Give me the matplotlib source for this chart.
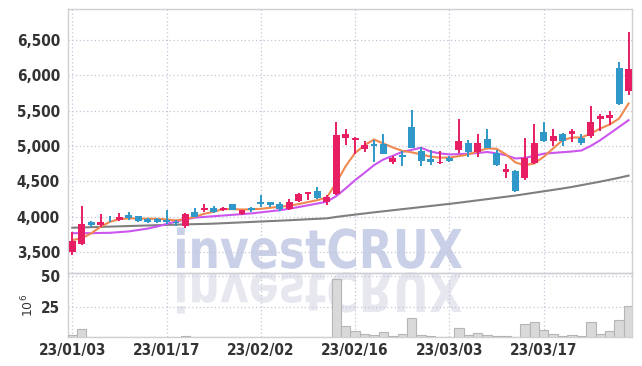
import matplotlib
matplotlib.use("Agg")
import matplotlib.pyplot as plt
import numpy as np
from matplotlib.textpath import TextPath
from matplotlib.patches import PathPatch
from matplotlib.font_manager import FontProperties, fontManager
import matplotlib.transforms as mtransforms


def pick_label_font():
    """Find a narrow bold face for the axis labels, falling back to Roboto."""
    def weight_of(f):
        w = f.weight
        if isinstance(w, str):
            w = {"bold": 700, "semibold": 600, "demibold": 600, "medium": 500}.get(w, 400)
        return w

    best = None
    for f in fontManager.ttflist:
        narrow = (f.stretch in ("condensed", "semi-condensed", "extra-condensed")
                  or "Narrow" in f.name or "Condensed" in f.name)
        if not narrow or f.style != "normal":
            continue
        score = abs(weight_of(f) - 650)
        if f.stretch == "condensed" or "Narrow" in f.name:
            score -= 50
        if best is None or score < best[0]:
            best = (score, f)
    if best is not None:
        return FontProperties(fname=best[1].fname)
    return FontProperties(family="Roboto", weight="bold")


LABEL_FP = pick_label_font()

# daily OHLC, 23/01/03 .. 23/03/30 (trading days)
opens = [3502, 3611, 3926, 3880, 3970, 3950, 4025, 4007, 3965, 3960,
         3955, 3926, 3866, 4059, 4088, 4125, 4096, 4172, 4031, 4116,
         4210, 4205, 4172, 4101, 4219, 4322, 4360, 4210, 4314, 5120,
         5082, 4955, 5021, 5021, 4775, 4874, 5273, 4926, 4813, 4752,
         4832, 4945, 5040, 4917, 5096, 4902, 4634, 4644, 4549, 4761,
         5191, 5072, 5176, 5171, 5106, 5139, 5383, 5397, 6105, 5779]
highs = [3785, 4149, 3940, 4031, 4011, 4045, 4068, 4010, 3979, 3975,
         4092, 3955, 4045, 4120, 4172, 4150, 4140, 4180, 4100, 4130,
         4304, 4205, 4205, 4253, 4330, 4350, 4417, 4304, 5341, 5247,
         5129, 5072, 5082, 5176, 4856, 4931, 5510, 4987, 4950, 4935,
         4860, 5375, 5082, 5176, 5247, 4936, 4738, 4653, 5120, 5318,
         5341, 5247, 5190, 5237, 5176, 5567, 5446, 5492, 6190, 6614]
lows = [3455, 3597, 3847, 3847, 3918, 3936, 3950, 3920, 3910, 3905,
        3890, 3866, 3833, 3993, 4059, 4050, 4080, 4090, 4020, 4070,
        4139, 4139, 4082, 4088, 4200, 4233, 4253, 4163, 4304, 5011,
        4884, 4908, 4775, 4884, 4742, 4714, 4965, 4714, 4730, 4750,
        4775, 4894, 4846, 4846, 4965, 4718, 4540, 4350, 4516, 4742,
        5058, 5001, 5000, 5058, 5011, 5120, 5209, 5304, 5577, 5728]
closes = [3654, 3894, 3880, 3926, 3960, 3990, 3983, 3936, 3930, 3926,
          3920, 3908, 4035, 3993, 4125, 4068, 4125, 4092, 4092, 4088,
          4172, 4167, 4110, 4200, 4318, 4350, 4266, 4271, 5153, 5167,
          5110, 5011, 4993, 4884, 4823, 4837, 4965, 4789, 4771, 4775,
          4789, 5068, 4917, 5049, 4973, 4728, 4672, 4365, 4823, 5049,
          5072, 5139, 5072, 5209, 5044, 5346, 5426, 5440, 5601, 6086]

# moving average lines as drawn
ma_short = [3667, 3692, 3762, 3856, 3926, 3965, 3975, 3972, 3970, 3968,
            3960, 3946, 3965, 3997, 4040, 4068, 4106, 4106, 4100, 4103,
            4110, 4125, 4139, 4153, 4177, 4205, 4233, 4271, 4478, 4714,
            4902, 5011, 5092, 5035, 4979, 4931, 4910, 4880, 4850, 4835,
            4835, 4856, 4880, 4926, 4965, 4960, 4880, 4767, 4728, 4752,
            4846, 4965, 5082, 5120, 5120, 5176, 5247, 5304, 5389, 5601]
ma_mid = [3765, 3765, 3765, 3768, 3770, 3780, 3790, 3810, 3830, 3860,
          3895, 3930, 3960, 3985, 3995, 4005, 4015, 4025, 4035, 4045,
          4060, 4075, 4090, 4110, 4135, 4160, 4185, 4210, 4290, 4399,
          4516, 4620, 4728, 4809, 4860, 4917, 4945, 4975, 4920, 4895,
          4880, 4885, 4890, 4900, 4915, 4895, 4870, 4823, 4832, 4860,
          4890, 4902, 4912, 4922, 4936, 5001, 5082, 5176, 5270, 5365]
ma_long = [3842, 3846, 3850, 3854, 3858, 3862, 3866, 3870, 3874, 3878,
           3882, 3886, 3889, 3893, 3896, 3900, 3906, 3912, 3918, 3924,
           3930, 3936, 3942, 3948, 3955, 3962, 3968, 3975, 3995, 4012,
           4028, 4044, 4060, 4075, 4090, 4105, 4120, 4135, 4150, 4165,
           4180, 4196, 4213, 4230, 4247, 4264, 4281, 4298, 4318, 4338,
           4358, 4378, 4398, 4420, 4445, 4470, 4495, 4522, 4550, 4580]

# volume in millions
volumes = [2.0, 7.0, 0.6, 0.5, 0.4, 0.5, 0.5, 0.4, 0.3, 0.4,
           0.8, 0.4, 0.9, 0.6, 0.5, 0.4, 0.3, 0.3, 0.6, 0.5,
           0.8, 0.6, 0.6, 0.7, 0.5, 0.6, 0.8, 0.5, 47.7, 9.6,
           5.0, 3.0, 2.2, 4.8, 1.5, 2.5, 15.7, 2.2, 1.3, 0.8,
           0.8, 7.7, 2.0, 3.7, 2.0, 1.0, 1.0, 0.6, 11.0, 12.5,
           6.2, 3.0, 1.3, 2.2, 1.0, 12.5, 3.0, 5.0, 14.0, 26.0]

tick_pos = [0, 10, 20, 30, 40, 50]
tick_labels = ["23/01/03", "23/01/17", "23/02/02", "23/02/16", "23/03/03", "23/03/17"]
price_ticks = [3500, 4000, 4500, 5000, 5500, 6000, 6500]
vol_ticks = [25, 50]

UP = "#e81e64"
DOWN = "#2f98c9"
GRID = "#c4c6d8"
SPINE = "#cfcfd6"
TXT = "#333333"

fig = plt.figure(figsize=(6.42, 3.66), dpi=100)
ax = fig.add_axes([0.1064, 0.2549, 0.8785, 0.7205])
axv = fig.add_axes([0.1064, 0.0779, 0.8785, 0.1770], sharex=ax)
for a in (ax, axv):
    a.set_facecolor("none")

x = np.arange(len(closes))
o = np.array(opens)
c = np.array(closes)
colors = [UP if cc >= oo else DOWN for oo, cc in zip(o, c)]

ax.vlines(x, lows, highs, colors=colors, linewidth=1.4, zorder=3)
bottoms = np.minimum(o, c)
heights = np.maximum(np.abs(c - o), 10)
ax.bar(x, heights, bottom=bottoms, width=0.72, color=colors, zorder=4)

ax.plot(x, ma_long, color="#7f7f7f", linewidth=1.5, zorder=2)
ax.plot(x, ma_mid, color="#cc55ee", linewidth=1.5, zorder=2)
ax.plot(x, ma_short, color="#f0884f", linewidth=1.5, zorder=2)

axv.bar(x, volumes, width=1.0, color="#d9d9d9", edgecolor="#b5b5b5", linewidth=0.8, zorder=3)

ax.set_xlim(-0.42, 59.4)
ax.set_ylim(3205, 6940)
axv.set_ylim(0, 53)

ax.set_yticks(price_ticks)
ax.set_yticklabels([f"{v:,}" for v in price_ticks])
axv.set_yticks(vol_ticks)
axv.set_xticks(tick_pos)
axv.set_xticklabels(tick_labels)
plt.setp(ax.get_xticklabels(), visible=False)

for a in (ax, axv):
    a.grid(True, color=GRID, linestyle=(0, (1, 2)), linewidth=0.9)
    a.set_axisbelow(True)
    a.tick_params(length=0, colors=TXT, pad=6)
    for lab in a.get_yticklabels() + a.get_xticklabels():
        lab.set_fontproperties(LABEL_FP)
        lab.set_fontsize(11)
    for s in a.spines.values():
        s.set_color(SPINE)
        s.set_linewidth(1.0)
axv.tick_params(axis="x", pad=4)
axv.set_ylabel("10$^6$", color=TXT, fontsize=9, labelpad=3)

# watermark with reflection
fp = FontProperties(family="DejaVu Sans", weight="bold")
tp = TextPath((0, 0), "investCRUX", size=100, prop=fp)
bb = tp.get_extents()
H = 366
sx = 285 / bb.width
sy = 39 / 73.0
main_t = mtransforms.Affine2D().translate(-bb.x0, 0).scale(sx, sy).translate(177, H - 268)
refl_t = mtransforms.Affine2D().translate(-bb.x0, 0).scale(sx, -sy).translate(177, H - 273)
fig.patches.append(PathPatch(tp, transform=main_t, facecolor="#c9d0e7", edgecolor="none", zorder=-1))
fig.patches.append(PathPatch(tp, transform=refl_t, facecolor="#e6e7ef", edgecolor="none", zorder=-1))

fig.savefig("out.png", dpi=100)
